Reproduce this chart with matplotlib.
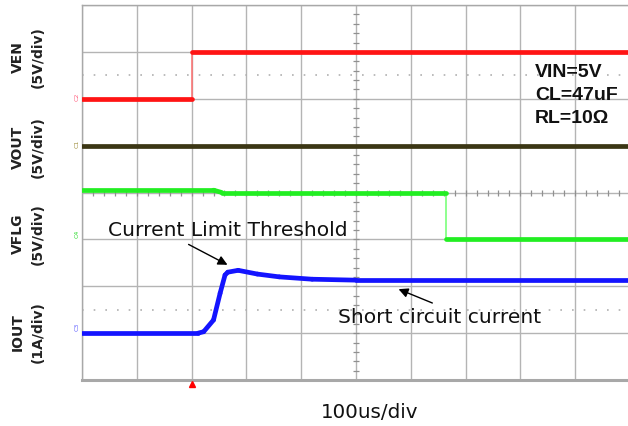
import matplotlib
matplotlib.use("Agg")
import matplotlib.pyplot as plt
import numpy as np

# ---- data (time in us, trigger at t=0; 100 us/div) ----
ven_t = [-200, 0, 0, 800]
ven_v = [0.0, 0.0, 5.0, 5.0]            # volts, 5 V/div

vout_t = [-200, 800]
vout_v = [0.0, 0.0]                     # volts, 5 V/div

vflg_t = [-200, 40, 55, 464, 464, 800]
vflg_v = [5.25, 5.25, 5.0, 5.0, 0.0, 0.0]   # volts, 5 V/div

iout_t = [-200, 12, 22, 40, 52, 61, 66, 85, 120, 160, 220, 300, 800]
iout_a = [0.0, 0.0, 0.03, 0.28, 0.85, 1.24, 1.30, 1.34, 1.26, 1.20, 1.15, 1.13, 1.13]  # A, 1 A/div

channel_names = ["VEN", "VOUT", "VFLG", "IOUT"]
channel_scales = ["(5V/div)", "(5V/div)", "(5V/div)", "(1A/div)"]
conditions = ["VIN=5V", "CL=47uF", "RL=10\u03a9"]
timebase = "100us/div"

# ---- styling ----
W, H = 628, 426
fig = plt.figure(figsize=(W / 100, H / 100), dpi=100)
fig.patch.set_facecolor("white")

def fx(px):
    return px / W

def fy(py):
    return 1 - py / H

ax = fig.add_axes([fx(82), fy(380), 548 / W, 375 / H])
ax.set_xlim(-200, 800)
ax.set_ylim(0, 8)
ax.set_xticks(np.arange(-200, 801, 100))
ax.set_yticks(np.arange(0, 9, 1))
ax.tick_params(length=0, labelbottom=False, labelleft=False)
ax.grid(True, color="#b4b4b4", lw=1.0)
for s in ["top", "left"]:
    ax.spines[s].set_color("#a8a8a8")
    ax.spines[s].set_linewidth(1.0)
ax.spines["bottom"].set_color("#a8a8a8")
ax.spines["bottom"].set_linewidth(2.2)
ax.spines["right"].set_visible(False)

# center-axis minor ticks
ys = np.arange(0.2, 8, 0.2)
ax.plot([300] * len(ys), ys, ls="none", marker="_", ms=5, mew=0.9, color="#909090")
ts = np.arange(-180, 800, 20)
ax.plot(ts, [4] * len(ts), ls="none", marker="|", ms=5, mew=0.9, color="#909090")

# dotted reference lines
for yd in (6.5, 1.5):
    ax.axhline(yd, color="#b0b0b0", lw=1.2, dashes=(1, 6))


def trace(t, v, offset, scale, color, edge_color, lw=3.4):
    y = offset + np.asarray(v, dtype=float) / scale
    for i in range(len(t) - 1):
        if t[i] == t[i + 1]:
            ax.plot(t[i:i + 2], y[i:i + 2], color=edge_color, lw=1.1,
                    solid_capstyle="butt", zorder=3)
        else:
            ax.plot(t[i:i + 2], y[i:i + 2], color=color, lw=lw,
                    solid_capstyle="round", zorder=4)


trace(ven_t, ven_v, 6, 5, "#ff1414", "#ff7070")
trace(vout_t, vout_v, 5, 5, "#3b3614", "#3b3614")
trace(vflg_t, vflg_v, 3, 5, "#22ee22", "#70ff70")
trace(iout_t, iout_a, 1, 1, "#1414ff", "#1414ff")

# trigger marker
ax.plot([0], [-0.08], marker="^", color="#ff0000", ms=5, clip_on=False, zorder=10)

# channel markers
for py, col, lab in [(97, "#ff6080", "C2"), (144, "#a09040", "C1"),
                     (234, "#30dd30", "C4"), (327, "#6060ff", "C3")]:
    fig.text(fx(77), fy(py), lab, color=col, fontsize=4.5, rotation=90,
             ha="center", va="center")

# left labels
for name, scale, py in zip(channel_names, channel_scales, [57, 147, 234, 332]):
    fig.text(fx(18), fy(py), name, rotation=90, ha="center", va="center",
             fontsize=10, fontweight="bold", color="#222222")
    fig.text(fx(38), fy(py), scale, rotation=90, ha="center", va="center",
             fontsize=10, fontweight="bold", color="#222222")

# conditions
for txt, py in zip(conditions, [77, 100, 123]):
    fig.text(fx(535), fy(py), txt, fontsize=14, fontweight="bold",
             family="Liberation Sans", color="#111111", ha="left", va="baseline")

# annotations
ax.annotate("", xy=(70, 2.43), xytext=(-10, 2.92),
            arrowprops=dict(arrowstyle="-|>", color="black", lw=1.0, mutation_scale=14))
ax.annotate("", xy=(373, 1.96), xytext=(444, 1.62),
            arrowprops=dict(arrowstyle="-|>", color="black", lw=1.0, mutation_scale=14))
fig.text(fx(108), fy(236), "Current Limit Threshold", fontsize=14.6,
         color="#111111", ha="left", va="baseline")
fig.text(fx(338), fy(323), "Short circuit current", fontsize=14.6,
         color="#111111", ha="left", va="baseline")

fig.text(fx(370), fy(418), timebase, fontsize=14.3, color="#111111",
         ha="center", va="baseline")

fig.savefig("out.png", dpi=100, facecolor="white")
